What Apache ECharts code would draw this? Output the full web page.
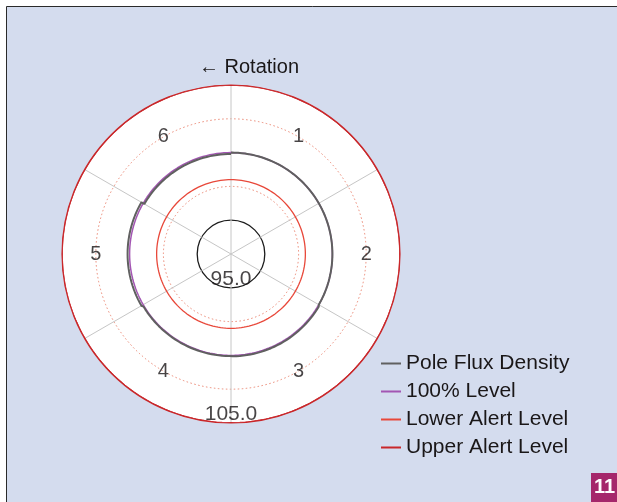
<!DOCTYPE html>
<html><head><meta charset="utf-8">
<script src="https://cdn.jsdelivr.net/npm/echarts@6/dist/echarts.min.js"></script>
<style>html,body{margin:0;padding:0;background:#fff}#c{width:617px;height:502px}</style>
</head><body><div id="c"></div>
<script>
// ---- data ----
const poles = ['1', '2', '3', '4', '5', '6'];
const poleFlux = [100.0, 100.0, 100.07, 100.05, 100.15, 99.9];
const level100 = 100.0;
const lowerAlert = 98.0;
const upperAlert = 105.0;
const radialTickLabels = [95.0, 105.0];
const seriesNames = ['Pole Flux Density', '100% Level', 'Lower Alert Level', 'Upper Alert Level'];
const titleText = '\u2190 Rotation';
const badgeText = '11';

// ---- axis setup ----
const R_MIN = 92.5, R_MAX = 105, R_STEP = 2.5;
const sectorDeg = 360 / poles.length;
const stepDeg = 1;
const FONT = '"Liberation Sans", Arial, Helvetica, sans-serif';

function ring(level) {
  const pts = [];
  for (let a = 0; a <= 360; a += stepDeg) pts.push([level, a]);
  return pts;
}
function fluxTrace() {
  const pts = [];
  poles.forEach((p, i) => {
    for (let a = i * sectorDeg; a <= (i + 1) * sectorDeg; a += stepDeg) pts.push([poleFlux[i], a]);
  });
  return pts;
}
const T = 'rgba(0,0,0,0)';
const TXT = '#1a1718';
const colors = { flux: '#606060', l100: '#a356b3', lower: '#e8483a', upper: '#c9272a' };

function lineSeries(name, data, color, width, z) {
  return {
    name, type: 'line', coordinateSystem: 'polar', polarIndex: 0,
    data, symbol: 'none', showSymbol: false, clip: false, z,
    lineStyle: { color, width }, itemStyle: { color }, silent: true
  };
}

const chart = echarts.init(document.getElementById('c'), null, { renderer: 'canvas' });
chart.setOption({
  animation: false,
  backgroundColor: '#ffffff',
  textStyle: { fontFamily: FONT },
  graphic: { elements: [
    { type: 'rect', z: -100, shape: { x: 6.5, y: 6.5, width: 640, height: 520 },
      style: { fill: '#d4dcee', stroke: '#2a2a2a', lineWidth: 1 } },
    { type: 'rect', z: 100, shape: { x: 591, y: 473, width: 40, height: 40 },
      style: { fill: '#a5276b' } },
    { type: 'text', z: 101, x: 594, y: 477,
      style: { text: badgeText, fill: '#ffffff', font: 'bold 20px ' + FONT } }
  ] },
  title: {
    text: titleText, left: 199, top: 57, padding: 0,
    textStyle: { fontSize: 20, fontWeight: 'normal', color: TXT, fontFamily: FONT }
  },
  legend: {
    data: seriesNames, orient: 'vertical', left: 381, top: 353, padding: 0,
    icon: 'rect', itemWidth: 20, itemHeight: 2, itemGap: 7,
    textStyle: { fontSize: 21, lineHeight: 20, color: TXT, fontFamily: FONT }
  },
  polar: [
    { center: [231, 254], radius: 169 },
    { center: [231, 254], radius: 169 }
  ],
  angleAxis: [
    { polarIndex: 0, type: 'value', min: 0, max: 360, interval: sectorDeg, startAngle: 90, clockwise: true, z: 1,
      axisLine: { show: true, lineStyle: { color: colors.upper, width: 1.2 } },
      axisTick: { show: false }, axisLabel: { show: false },
      splitLine: { show: true, lineStyle: { color: '#c6c6c6', width: 1 } } },
    { polarIndex: 1, type: 'value', min: 0, max: 360, interval: sectorDeg, startAngle: 90, z: -1,
      axisLine: { show: false }, axisTick: { show: false }, axisLabel: { show: false },
      splitLine: { show: false },
      splitArea: { show: true, areaStyle: { color: ['#ffffff'] } } }
  ],
  radiusAxis: [
    { polarIndex: 0, type: 'value', min: R_MIN, max: R_MAX, interval: R_STEP, z: 1,
      axisLine: { show: false }, axisTick: { show: false }, axisLabel: { show: false },
      splitLine: { show: true, lineStyle: { type: [1.5, 2.5], width: 1,
        color: [T, T, '#ec8874', T, '#ec8874', T] } } },
    { polarIndex: 1, type: 'value', min: R_MIN, max: R_MAX, interval: R_STEP, z: 1,
      axisLine: { show: false }, axisTick: { show: false }, axisLabel: { show: false },
      splitLine: { show: true, lineStyle: { width: 1.3, color: [T, '#1c1c1c', T, T, T, T] } } }
  ],
  series: [
    lineSeries(seriesNames[1], ring(level100), colors.l100, 1.5, 3),
    lineSeries(seriesNames[0], fluxTrace(), colors.flux, 2, 4),
    lineSeries(seriesNames[2], ring(lowerAlert), colors.lower, 1.3, 3),
    lineSeries(seriesNames[3], ring(upperAlert), colors.upper, 1.8, 3),
    { type: 'scatter', coordinateSystem: 'polar', polarIndex: 0, silent: true, z: 6,
      symbolSize: 1, itemStyle: { color: T },
      data: poles.map((p, i) => ({ name: p, value: [R_MAX - R_STEP, (i + 0.5) * sectorDeg] })),
      label: { show: true, position: 'inside', formatter: '{b}', fontSize: 20, color: TXT, fontFamily: FONT } },
    { type: 'scatter', coordinateSystem: 'polar', polarIndex: 0, silent: true, z: 6,
      symbolSize: 1, itemStyle: { color: T },
      data: radialTickLabels.map(v => ({ name: v.toFixed(1), value: [v, 180] })),
      label: { show: true, position: 'top', distance: -2, formatter: '{b}', fontSize: 21, color: TXT, fontFamily: FONT } }
  ]
});
</script></body></html>
